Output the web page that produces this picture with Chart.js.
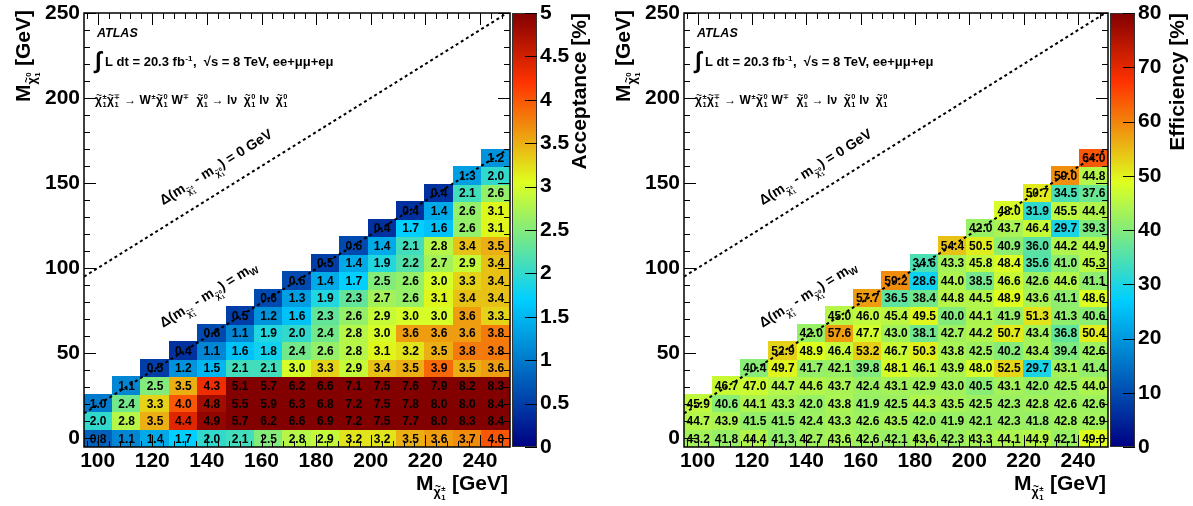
<!DOCTYPE html>
<html>
<head>
<meta charset="utf-8">
<script src="https://cdn.jsdelivr.net/npm/chart.js@4.4.0/dist/chart.umd.min.js"></script>
<style>
  body { margin: 0; background: #fff; }
  #wrap { position: relative; width: 1193px; height: 506px; }
  #wrap canvas { position: absolute; top: 0; }
</style>
</head>
<body>
<div id="wrap">
  <canvas id="acc" width="597" height="506" style="left:0"></canvas>
  <canvas id="eff" width="596" height="506" style="left:597px"></canvas>
</div>
<script>
// chargino masses (GeV), one column of the grid each
const charginoMass = [100, 110, 120, 130, 140, 150, 160, 170, 180, 190, 200, 210, 220, 230, 240];
// neutralino mass of a column's n-th value is n * 10 GeV (starting at 0)
const neutralinoStep = 10;

// acceptance [%], per chargino mass, from m(chi0) = 0 upward
const acceptance = [
  [0.8, 2.0, 1.0],
  [1.1, 2.8, 2.4, 1.1],
  [1.4, 3.5, 3.3, 2.5, 0.5],
  [1.7, 4.4, 4.0, 3.5, 1.2, 0.4],
  [2.0, 4.9, 4.8, 4.3, 1.5, 1.1, 0.6],
  [2.1, 5.7, 5.5, 5.1, 2.1, 1.6, 1.1, 0.5],
  [2.5, 6.2, 5.9, 5.7, 2.1, 1.8, 1.9, 1.2, 0.6],
  [2.8, 6.6, 6.3, 6.2, 3.0, 2.4, 2.0, 1.6, 1.3, 0.6],
  [2.9, 6.9, 6.8, 6.6, 3.3, 2.6, 2.4, 2.3, 1.9, 1.4, 0.5],
  [3.2, 7.2, 7.2, 7.1, 2.9, 2.8, 2.8, 2.6, 2.3, 1.7, 1.4, 0.6],
  [3.2, 7.5, 7.5, 7.5, 3.4, 3.1, 3.0, 2.9, 2.7, 2.5, 1.9, 1.4, 0.4],
  [3.5, 7.7, 7.8, 7.6, 3.5, 3.2, 3.6, 3.0, 2.6, 2.6, 2.2, 2.1, 1.7, 0.4],
  [3.6, 8.0, 8.0, 7.9, 3.9, 3.5, 3.6, 3.0, 3.1, 3.0, 2.7, 2.8, 1.6, 1.4, 0.4],
  [3.7, 8.3, 8.0, 8.2, 3.5, 3.8, 3.6, 3.6, 3.4, 3.3, 2.9, 3.4, 2.6, 2.6, 2.1, 1.3],
  [4.0, 8.4, 8.4, 8.3, 3.6, 3.8, 3.8, 3.3, 3.4, 3.4, 3.4, 3.5, 3.1, 3.1, 2.6, 2.0, 1.2]
];

// efficiency [%], same layout
const efficiency = [
  [43.2, 44.7, 45.9],
  [41.8, 43.9, 40.6, 46.7],
  [44.4, 41.5, 44.1, 47.0, 40.4],
  [41.3, 41.5, 43.3, 44.7, 49.7, 52.9],
  [42.7, 42.4, 42.0, 44.6, 41.7, 48.9, 42.0],
  [43.6, 43.3, 43.8, 43.7, 42.1, 46.4, 57.6, 45.0],
  [42.6, 42.6, 41.9, 42.4, 39.8, 53.2, 47.7, 46.0, 57.7],
  [42.1, 43.5, 42.5, 43.1, 48.1, 46.7, 43.0, 45.4, 36.5, 59.2],
  [43.6, 42.0, 44.3, 42.9, 46.1, 50.3, 38.1, 49.5, 38.4, 28.6, 34.6],
  [42.3, 41.9, 43.5, 43.0, 43.9, 43.8, 42.7, 40.0, 44.8, 44.0, 43.3, 54.4],
  [43.3, 42.1, 42.5, 40.5, 48.0, 42.5, 44.2, 44.1, 44.5, 38.5, 45.8, 50.5, 42.0],
  [44.1, 42.3, 42.3, 43.1, 52.5, 40.2, 50.7, 41.9, 48.9, 46.6, 48.4, 40.9, 43.7, 48.0],
  [44.9, 41.8, 42.8, 42.0, 29.7, 43.4, 43.4, 51.3, 43.6, 42.6, 35.6, 36.0, 46.4, 31.9, 50.7],
  [42.1, 42.8, 42.6, 42.5, 43.1, 39.4, 36.8, 41.3, 41.1, 44.6, 41.0, 44.2, 29.7, 45.5, 34.5, 59.0],
  [49.0, 42.9, 42.6, 44.0, 41.4, 42.6, 50.4, 40.6, 48.6, 41.1, 45.3, 44.9, 39.3, 44.4, 37.6, 44.8, 64.0]
];

const accRange = [0, 5];
const effRange = [0, 80];
const mW = 80.4;

// histogram binning of the original plot
const XMIN = 95, XMAX = 251, YMIN = -5.15, YMAX = 250;
const BWX = (XMAX - XMIN) / charginoMass.length;
const BWY = 10.3;

const FONT = '"Liberation Sans", Arial, Helvetica, sans-serif';
const tickFont = { family: FONT, size: 21, weight: 'bold' };

// ROOT style rainbow palette
const pStops = [0.00, 0.34, 0.61, 0.84, 1.00];
const pRed   = [0.00, 0.00, 0.87, 1.00, 0.51];
const pGreen = [0.00, 0.81, 1.00, 0.20, 0.00];
const pBlue  = [0.51, 1.00, 0.12, 0.00, 0.00];

function rgbAt(k) {
  return 'rgb(' + Math.round(pRed[k] * 255) + ',' + Math.round(pGreen[k] * 255) + ',' + Math.round(pBlue[k] * 255) + ')';
}
function palette(f) {
  f = Math.max(0, Math.min(1, f));
  let k = 0;
  while (k < pStops.length - 2 && f > pStops[k + 1]) k++;
  const t = (f - pStops[k]) / (pStops[k + 1] - pStops[k]);
  const r = pRed[k] + t * (pRed[k + 1] - pRed[k]);
  const g = pGreen[k] + t * (pGreen[k + 1] - pGreen[k]);
  const b = pBlue[k] + t * (pBlue[k + 1] - pBlue[k]);
  return 'rgb(' + Math.round(r * 255) + ',' + Math.round(g * 255) + ',' + Math.round(b * 255) + ')';
}

// small rich text helper: sub/superscripts stacked after a token, optional tilde
function rich(ctx, parts, size, x, y, draw) {
  let cx = x;
  for (const p of parts) {
    const fs = size * (p.s || 1);
    const by = y + (p.dy || 0) * size;
    ctx.font = (p.it ? 'italic ' : '') + 'bold ' + fs + 'px ' + FONT;
    const w = ctx.measureText(p.t).width;
    if (draw) ctx.fillText(p.t, cx, by);
    if (p.tilde && draw) {
      ctx.font = 'bold ' + (fs * 0.8) + 'px ' + FONT;
      const tw = ctx.measureText('~').width;
      ctx.fillText('~', cx + (w - tw) / 2 + fs * 0.05, by - fs * 0.5);
    }
    cx += w;
    if (p.sup || p.sub) {
      const ss = fs * 0.62;
      ctx.font = 'bold ' + ss + 'px ' + FONT;
      let w2 = 0;
      if (p.sup) {
        if (draw) ctx.fillText(p.sup, cx + 0.5, by - fs * 0.42);
        w2 = ctx.measureText(p.sup).width;
      }
      if (p.sub) {
        if (draw) ctx.fillText(p.sub, cx + 0.5, by + fs * 0.28);
        w2 = Math.max(w2, ctx.measureText(p.sub).width);
      }
      cx += w2 + 1;
    }
  }
  return cx - x;
}

const chi = (sup) => ({ t: 'χ', tilde: true, sup: sup, sub: '1' });
const chiSmall = (sup) => ({ t: 'χ', s: 0.6, dy: 0.35, tilde: true, sup: sup, sub: '1' });

const decayText = [chi('±'), chi('∓'), { t: ' → W', sup: '±' }, chi('0'), { t: ' W', sup: '∓' }, { t: '  ' }, chi('0'),
  { t: ' → lν  ' }, chi('0'), { t: ' lν  ' }, chi('0')];
const lumiText = [{ t: '∫', s: 1.8, dy: 0.12 }, { t: ' L dt = 20.3 fb', sup: '-1' }, { t: ',  √s = 8 TeV, ee+μμ+eμ' }];
const dm0Text = [{ t: 'Δ(m' }, chiSmall('±'), { t: ' - m' }, chiSmall('0'), { t: ') = 0 GeV' }];
const dmWText = [{ t: 'Δ(m' }, chiSmall('±'), { t: ' - m' }, chiSmall('0'), { t: ') = m' }, { t: 'W', s: 0.7, dy: 0.25 }];
const yTitle = [{ t: 'M' }, { t: 'χ', s: 0.6, dy: 0.3, tilde: true, sup: '0', sub: '1' }, { t: ' [GeV]' }];
const xTitle = [{ t: 'M' }, { t: 'χ', s: 0.6, dy: 0.3, tilde: true, sup: '±', sub: '1' }, { t: ' [GeV]' }];

const heatPlugin = {
  id: 'heat',
  beforeDatasetsDraw(chart) {
    const { ctx, scales: { x, y } } = chart;
    const cfg = chart.options.plugins.heat;
    ctx.save();
    for (const p of chart.data.datasets[0].data) {
      const x0 = Math.floor(x.getPixelForValue(XMIN + p.ix * BWX));
      const x1 = Math.ceil(x.getPixelForValue(XMIN + (p.ix + 1) * BWX));
      const y0 = Math.ceil(y.getPixelForValue(YMIN + p.iy * BWY));
      const y1 = Math.floor(y.getPixelForValue(YMIN + (p.iy + 1) * BWY));
      ctx.fillStyle = palette(p.v / cfg.max);
      ctx.fillRect(x0, y1, x1 - x0, y0 - y1);
    }
    ctx.restore();
  },
  afterDraw(chart) {
    const { ctx, chartArea: a, scales: { x, y, z } } = chart;
    const cfg = chart.options.plugins.heat;
    ctx.save();

    // cell values
    ctx.fillStyle = '#000';
    ctx.textAlign = 'center';
    ctx.textBaseline = 'middle';
    ctx.font = 'bold 12px ' + FONT;
    for (const p of chart.data.datasets[0].data) {
      const cx = x.getPixelForValue(XMIN + (p.ix + 0.5) * BWX);
      const cy = y.getPixelForValue(YMIN + (p.iy + 0.5) * BWY);
      ctx.fillText(p.v.toFixed(1), cx, cy + 1);
    }

    // kinematic lines
    ctx.beginPath();
    ctx.rect(a.left, a.top, a.right - a.left, a.bottom - a.top);
    ctx.clip();
    ctx.strokeStyle = '#000';
    ctx.lineWidth = 2;
    ctx.setLineDash([3, 3]);
    ctx.beginPath();
    ctx.moveTo(x.getPixelForValue(XMIN), y.getPixelForValue(XMIN));
    ctx.lineTo(x.getPixelForValue(250), y.getPixelForValue(250));
    ctx.moveTo(x.getPixelForValue(XMIN), y.getPixelForValue(XMIN - mW));
    ctx.lineTo(x.getPixelForValue(250), y.getPixelForValue(250 - mW));
    ctx.stroke();
    ctx.setLineDash([]);

    const ang = Math.atan2(y.getPixelForValue(200) - y.getPixelForValue(100), x.getPixelForValue(200) - x.getPixelForValue(100));
    ctx.textAlign = 'left';
    ctx.textBaseline = 'alphabetic';
    [[dm0Text, 124, 137], [dmWText, 124, 65]].forEach(([parts, vx, vy]) => {
      ctx.save();
      ctx.translate(x.getPixelForValue(vx), y.getPixelForValue(vy));
      ctx.rotate(ang);
      rich(ctx, parts, 14, 0, 0, true);
      ctx.restore();
    });

    // legend text
    rich(ctx, [{ t: 'ATLAS', it: true }], 12.5, a.left + 13, a.top + 24, true);
    rich(ctx, lumiText, 13, a.left + 11, a.top + 53, true);
    rich(ctx, decayText, 12, a.left + 11, a.top + 91, true);
    ctx.restore();

    ctx.save();
    // frame and inward ticks
    ctx.strokeStyle = '#000';
    ctx.lineWidth = 1.5;
    ctx.strokeRect(a.left, a.top, a.right - a.left, a.bottom - a.top);
    ctx.lineWidth = 1;
    ctx.beginPath();
    for (let v = 96; v <= XMAX; v += 4) {
      const px = Math.round(x.getPixelForValue(v)) + 0.5;
      const len = v % 20 === 0 ? 12 : 6;
      ctx.moveTo(px, a.bottom); ctx.lineTo(px, a.bottom - len);
      ctx.moveTo(px, a.top); ctx.lineTo(px, a.top + len);
    }
    for (let v = 0; v <= YMAX; v += 10) {
      const py = Math.round(y.getPixelForValue(v)) + 0.5;
      const len = v % 50 === 0 ? 12 : 6;
      ctx.moveTo(a.left, py); ctx.lineTo(a.left + len, py);
      ctx.moveTo(a.right, py); ctx.lineTo(a.right - len, py);
    }
    ctx.stroke();

    // colour bar
    const bx0 = z.left + 2, bx1 = z.left + 27;
    const top = z.getPixelForValue(cfg.max), bot = z.getPixelForValue(0);
    const grad = ctx.createLinearGradient(0, bot, 0, top);
    pStops.forEach((s, k) => grad.addColorStop(s, rgbAt(k)));
    ctx.fillStyle = grad;
    ctx.fillRect(bx0, top, bx1 - bx0, bot - top);
    ctx.strokeStyle = '#333';
    ctx.strokeRect(bx0 + 0.5, top + 0.5, bx1 - bx0 - 1, bot - top - 1);
    ctx.strokeStyle = '#000';
    ctx.beginPath();
    z.ticks.forEach(t => {
      const py = Math.round(z.getPixelForValue(t.value)) + 0.5;
      ctx.moveTo(bx1, py); ctx.lineTo(bx1 - 12, py);
    });
    ctx.stroke();

    // axis titles
    ctx.fillStyle = '#000';
    ctx.textAlign = 'left';
    ctx.textBaseline = 'alphabetic';
    let w = rich(ctx, xTitle, 21, 0, 0, false);
    rich(ctx, xTitle, 21, a.right - 2 - w, a.bottom + 43, true);

    ctx.save();
    ctx.translate(a.left - 54, a.top - 3);
    ctx.rotate(-Math.PI / 2);
    w = rich(ctx, yTitle, 21, 0, 0, false);
    rich(ctx, yTitle, 21, -w, 0, true);
    ctx.restore();

    ctx.save();
    ctx.translate(z.left + 76, a.top);
    ctx.rotate(-Math.PI / 2);
    w = rich(ctx, [{ t: cfg.title }], 21, 0, 0, false);
    rich(ctx, [{ t: cfg.title }], 21, -w, 0, true);
    ctx.restore();
    ctx.restore();
  }
};

function noPad(s) {
  s.paddingTop = 0; s.paddingBottom = 0; s.paddingLeft = 0; s.paddingRight = 0;
}

function makeChart(id, values, range, zStep, zTitle, leftW, rightW) {
  const points = [];
  values.forEach((col, i) => {
    col.forEach((v, j) => {
      points.push({ x: charginoMass[i], y: j * neutralinoStep, v: v, ix: i, iy: j });
    });
  });
  const noGrid = { display: false, drawTicks: false };
  return new Chart(document.getElementById(id), {
    type: 'scatter',
    data: { datasets: [{ data: points, pointRadius: 0, pointHoverRadius: 0 }] },
    options: {
      responsive: false,
      animation: false,
      events: [],
      layout: { padding: { top: 13, left: 0, right: 0, bottom: 0 } },
      plugins: {
        legend: { display: false },
        tooltip: { enabled: false },
        heat: { max: range[1], title: zTitle }
      },
      scales: {
        x: {
          type: 'linear', min: XMIN, max: XMAX,
          grid: noGrid, border: { display: false },
          ticks: { stepSize: 20, includeBounds: false, autoSkip: false, maxRotation: 0, color: '#000', font: tickFont, padding: 2 },
          afterFit: s => { s.height = 59; noPad(s); }
        },
        y: {
          type: 'linear', min: YMIN, max: YMAX,
          grid: noGrid, border: { display: false },
          ticks: { stepSize: 50, includeBounds: false, autoSkip: false, color: '#000', font: tickFont, padding: 4 },
          afterFit: s => { s.width = leftW; noPad(s); }
        },
        z: {
          type: 'linear', position: 'right', min: range[0], max: range[1],
          grid: noGrid, border: { display: false },
          ticks: { stepSize: zStep, autoSkip: false, color: '#000', font: tickFont, padding: 30, callback: v => String(v) },
          afterFit: s => { s.width = rightW; noPad(s); }
        }
      }
    },
    plugins: [heatPlugin]
  });
}

makeChart('acc', acceptance, accRange, 0.5, 'Acceptance [%]', 84, 87);
makeChart('eff', efficiency, effRange, 10, 'Efficiency [%]', 87, 85);
</script>
</body>
</html>
